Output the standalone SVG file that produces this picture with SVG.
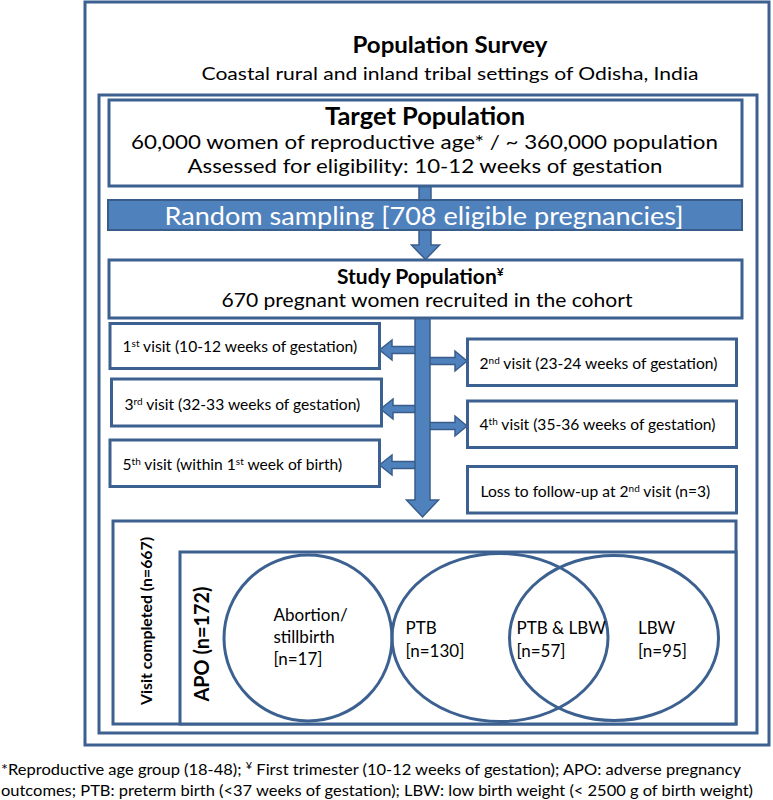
<svg xmlns="http://www.w3.org/2000/svg" width="773" height="800" viewBox="0 0 773 800">
<style>
.box{fill:#fff;stroke:#3C6190;stroke-width:3}
.frame{fill:none;stroke:#3C6190;stroke-width:3}
.ell{fill:none;stroke:#3C6190;stroke-width:3}
.arr{fill:#4F81BD;stroke:#385D8A;stroke-width:1.5;stroke-linejoin:miter}
text{font-family:Lato,"Liberation Sans",sans-serif;fill:#000}
.b{font-weight:bold}
.v{font-size:15.6px}
.e{font-size:17px}
.sup{font-size:10px}
</style>
<rect width="773" height="800" fill="#fff"/>
<g id="population-survey">
<rect class="frame" x="85" y="2" width="684" height="743"/>
<text class="b" x="450" y="53" font-size="23.5" text-anchor="middle" textLength="195" lengthAdjust="spacingAndGlyphs">Population Survey</text>
<text x="450" y="80" font-size="18" text-anchor="middle" textLength="497" lengthAdjust="spacingAndGlyphs">Coastal rural and inland tribal settings of Odisha, India</text>
</g>
<g id="inner-frame">
<rect class="frame" x="99" y="95" width="658" height="638"/>
</g>
<g id="connectors">
<polygon class="arr" points="419,186 431,186 431,245 439.5,245 425.5,259.5 411.5,245 419,245"/>
<polygon class="arr" points="422,346.5 392,346.5 392,340 379.5,350 392,360 392,353.5 422,353.5"/>
<polygon class="arr" points="422,405.5 393,405.5 393,399 380.5,409 393,419 393,412.5 422,412.5"/>
<polygon class="arr" points="422,461.5 392,461.5 392,455 379.5,465 392,475 392,468.5 422,468.5"/>
<polygon class="arr" points="422,357.5 455,357.5 455,351 467,361 455,371 455,364.5 422,364.5"/>
<polygon class="arr" points="422,422.5 455,422.5 455,416 467,426 455,436 455,429.5 422,429.5"/>
<polygon class="arr" points="415,318 430,318 430,500 438.5,500 422.5,517 406.5,500 415,500"/>
</g>
<g id="target-population">
<rect class="box" x="109" y="100" width="633" height="86"/>
<text class="b" x="425" y="125" font-size="24" text-anchor="middle" textLength="200" lengthAdjust="spacingAndGlyphs">Target Population</text>
<text x="424.5" y="149" font-size="20" text-anchor="middle" textLength="587" lengthAdjust="spacingAndGlyphs">60,000 women of reproductive age* / ~ 360,000 population</text>
<text x="425" y="172.5" font-size="20" text-anchor="middle" textLength="475" lengthAdjust="spacingAndGlyphs">Assessed for eligibility: 10-12 weeks of gestation</text>
</g>
<g id="random-sampling">
<rect x="108" y="200" width="634" height="30" fill="#4F81BD" stroke="#385D8A" stroke-width="2"/>
<text x="424" y="225" font-size="25" text-anchor="middle" textLength="519" lengthAdjust="spacingAndGlyphs" style="fill:#fff">Random sampling [708 eligible pregnancies]</text>
</g>
<g id="study-population">
<rect class="box" x="109" y="260" width="633" height="58"/>
<text class="b" x="337" y="284" font-size="21">Study Population<tspan font-size="12" dy="-8">¥</tspan></text>
<text x="427" y="306.5" font-size="19" text-anchor="middle" textLength="411" lengthAdjust="spacingAndGlyphs">670 pregnant women recruited in the cohort</text>
</g>
<g id="visit-1">
<rect class="box" x="110" y="323.5" width="269.5" height="45"/>
<text class="v" x="122.5" y="351.5">1<tspan class="sup" dy="-5">st</tspan><tspan dy="5"> visit (10-12 weeks of gestation)</tspan></text>
</g>
<g id="visit-2">
<rect class="box" x="467.5" y="339" width="269" height="46.5"/>
<text class="v" x="479.5" y="368.5">2<tspan class="sup" dy="-5">nd</tspan><tspan dy="5"> visit (23-24 weeks of gestation)</tspan></text>
</g>
<g id="visit-3">
<rect class="box" x="111.5" y="379" width="270" height="47"/>
<text class="v" x="124.5" y="409.5">3<tspan class="sup" dy="-5">rd</tspan><tspan dy="5"> visit (32-33 weeks of gestation)</tspan></text>
</g>
<g id="visit-4">
<rect class="box" x="467.5" y="401" width="269" height="46.5"/>
<text class="v" x="479.5" y="430">4<tspan class="sup" dy="-5">th</tspan><tspan dy="5"> visit (35-36 weeks of gestation)</tspan></text>
</g>
<g id="visit-5">
<rect class="box" x="110" y="440" width="269.5" height="46.5"/>
<text class="v" x="122.5" y="469.5">5<tspan class="sup" dy="-5">th</tspan><tspan dy="5"> visit (within 1</tspan><tspan class="sup" dy="-5">st</tspan><tspan dy="5"> week of birth)</tspan></text>
</g>
<g id="loss-follow-up">
<rect class="box" x="467.5" y="466.5" width="269" height="46.5"/>
<text class="v" x="480.5" y="496.5">Loss to follow-up at 2<tspan class="sup" dy="-5">nd</tspan><tspan dy="5"> visit (n=3)</tspan></text>
</g>
<g id="visit-completed">
<rect class="box" x="113" y="521" width="623" height="203"/>
<text class="b" transform="translate(152,621) rotate(-90)" font-size="14.5" text-anchor="middle" textLength="168" lengthAdjust="spacingAndGlyphs">Visit completed (n=667)</text>
</g>
<g id="apo">
<rect class="box" x="180" y="552" width="556" height="172"/>
<text class="b" transform="translate(209,644) rotate(-90)" font-size="20" text-anchor="middle" textLength="115" lengthAdjust="spacingAndGlyphs">APO (n=172)</text>
</g>
<g id="abortion">
<ellipse class="ell" cx="308" cy="638" rx="84" ry="83"/>
<text class="e" x="273.5" y="621">Abortion/</text>
<text class="e" x="273.5" y="643">stillbirth</text>
<text class="e" x="273.5" y="665">[n=17]</text>
</g>
<g id="ptb">
<ellipse class="ell" cx="500" cy="637.5" rx="108" ry="84"/>
<text class="e" x="405.5" y="634">PTB</text>
<text class="e" x="405.5" y="657">[n=130]</text>
</g>
<g id="lbw">
<ellipse class="ell" cx="614" cy="638" rx="104.5" ry="82.5"/>
<text class="e" x="638" y="634">LBW</text>
<text class="e" x="638" y="657">[n=95]</text>
</g>
<g id="ptb-lbw">
<text class="e" x="516.5" y="634">PTB &amp; LBW</text>
<text class="e" x="516.5" y="657">[n=57]</text>
</g>
<g id="footnote">
<text x="1" y="775" font-size="15" textLength="740" lengthAdjust="spacingAndGlyphs">*Reproductive age group (18-48); <tspan font-size="10" dy="-6">¥</tspan><tspan dy="6"> First trimester (10-12 weeks of gestation); APO: adverse pregnancy</tspan></text>
<text x="1" y="795.5" font-size="15" textLength="752" lengthAdjust="spacingAndGlyphs">outcomes; PTB: preterm birth (&lt;37 weeks of gestation); LBW: low birth weight (&lt; 2500 g of birth weight)</text>
</g>
</svg>
